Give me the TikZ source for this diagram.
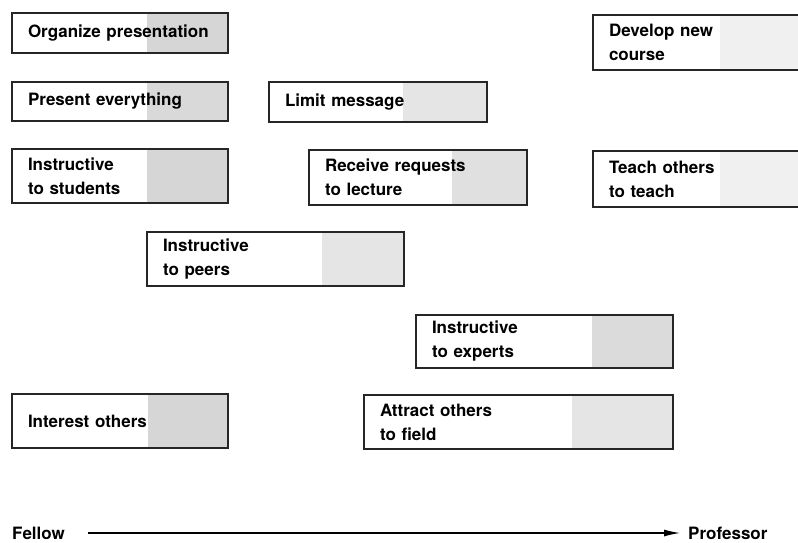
\documentclass[tikz,border=0pt]{standalone}
\usepackage{fontspec}
\setmainfont{TeX Gyre Heros}
\usetikzlibrary{positioning, calc, arrows.meta}

\begin{document}
\begin{tikzpicture}[x=1pt, y=-1pt, font=\bfseries\fontsize{17}{24}\selectfont]
        % Define block styles
        \tikzstyle{stage} = [rectangle, draw=black!85, line width=1.6pt, anchor=north west, outer sep=0pt, align=left, inner xsep=16pt, inner ysep=0pt]
        \tikzset{tint/.style 2 args={path picture={\fill[#2] ([xshift=-#1pt]path picture bounding box.north east) rectangle (path picture bounding box.south east);}}}

        % Keep the frame of the page
        \useasboundingbox (0,0) rectangle (798,542);
        \clip (0,0) rectangle (798,542);

        % Place nodes
        \node [stage, text width=184pt, minimum height=40pt, tint={81}{gray!32}] (organize) at (12,13) {Organize presentation};
        \node [stage, text width=184pt, minimum height=39pt, tint={81}{gray!30}] (everything) at (12,82) {Present everything};
        \node [stage, text width=184pt, minimum height=54pt, tint={81}{gray!32}] (students) at (12,149) {Instructive\\to students};
        \node [stage, text width=186pt, minimum height=40pt, tint={84}{gray!20}] (limit) at (269,82) {Limit message};
        \node [stage, text width=186pt, minimum height=55pt, tint={75}{gray!24}] (lecture) at (309,150) {Receive requests\\to lecture};
        \node [stage, text width=176pt, minimum height=55pt, tint={81}{gray!12}] (course) at (593,15) {Develop new\\course};
        \node [stage, text width=176pt, minimum height=56pt, tint={81}{gray!12}] (teach) at (593,151) {Teach others\\to teach};
        \node [stage, text width=225pt, minimum height=54pt, tint={82}{gray!20}] (peers) at (147,232) {Instructive\\to peers};
        \node [stage, text width=225pt, minimum height=53pt, tint={81}{gray!28}] (experts) at (416,315) {Instructive\\to experts};
        \node [stage, text width=184pt, minimum height=54pt, tint={80}{gray!32}] (interest) at (12,394) {Interest others};
        \node [stage, text width=277pt, minimum height=54pt, tint={101}{gray!20}] (attract) at (364,395) {Attract others\\to field};

        % Career axis
        \node [anchor=west, inner sep=0pt] (fellow) at (12,533) {Fellow};
        \node [anchor=west, inner sep=0pt] (professor) at (688,533) {Professor};
        \draw [-{Latex[length=16pt, width=7pt]}, line width=1.2pt, shorten <=23pt, shorten >=8pt] (fellow) -- (professor);
    \end{tikzpicture}
\end{document}
